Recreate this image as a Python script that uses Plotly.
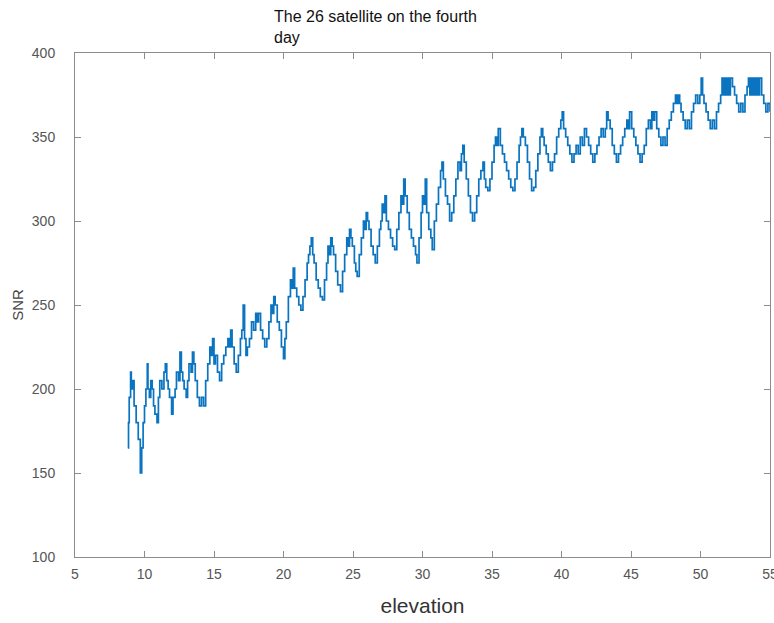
import plotly.graph_objects as go

# Elevation / SNR samples
elev_a = [8.80, 8.85, 8.90, 9.00, 9.05, 9.15, 9.25, 9.40, 9.55, 9.70, 9.80, 9.90, 10.00, 10.10, 10.20, 10.25, 10.35, 10.45, 10.55, 10.65,
          10.75, 10.90, 11.00, 11.10, 11.25, 11.40, 11.50, 11.60, 11.70, 11.80, 11.95, 12.05, 12.20, 12.30, 12.45, 12.55, 12.65, 12.75, 12.85, 13.00]
snr_a = [165, 180, 195, 210, 200, 205, 190, 180, 170, 150, 165, 180, 190, 200, 215, 200, 195, 205, 200, 190,
         185, 180, 195, 205, 200, 210, 215, 205, 200, 195, 185, 195, 200, 210, 205, 222, 210, 205, 200, 195]

elev_b = [13.10, 13.20, 13.35, 13.45, 13.55, 13.65, 13.80, 13.95, 14.10, 14.25, 14.40, 14.55, 14.70, 14.80, 14.90, 15.00, 15.10, 15.25, 15.40, 15.55,
          15.70, 15.85, 16.00, 16.10, 16.20, 16.30, 16.45, 16.60, 16.75, 16.90, 17.00, 17.10, 17.20, 17.30]
snr_b = [205, 215, 210, 222, 215, 205, 195, 190, 195, 190, 205, 215, 225, 220, 230, 215, 220, 210, 205, 215,
         220, 225, 230, 225, 235, 225, 215, 210, 220, 230, 235, 250, 230, 220]

elev_c = [17.40, 17.55, 17.70, 17.85, 18.00, 18.10, 18.20, 18.35, 18.50, 18.65, 18.80, 18.95, 19.10, 19.20, 19.30, 19.40, 19.55, 19.70, 19.85, 20.00,
          20.10, 20.20, 20.35, 20.50, 20.60, 20.70, 20.80, 20.95, 21.10, 21.25, 21.40, 21.55, 21.70, 21.80, 21.90, 22.00]
snr_c = [225, 230, 240, 235, 245, 240, 245, 235, 230, 225, 230, 240, 250, 245, 255, 250, 240, 235, 225, 218,
         230, 240, 255, 265, 260, 272, 260, 255, 250, 247, 255, 265, 275, 280, 285, 290]

elev_d = [22.10, 22.20, 22.35, 22.50, 22.65, 22.80, 22.95, 23.10, 23.20, 23.30, 23.40, 23.50, 23.60, 23.75, 23.90, 24.10, 24.25, 24.40, 24.55, 24.65,
          24.75, 24.85, 24.95, 25.10, 25.20, 25.30, 25.45, 25.60, 25.75, 25.85, 25.95, 26.05, 26.15, 26.30, 26.45]
snr_d = [280, 275, 265, 260, 255, 253, 265, 275, 285, 280, 290, 285, 280, 270, 262, 258, 270, 280, 290, 285,
         295, 290, 285, 275, 270, 267, 280, 290, 300, 295, 305, 300, 295, 285, 280]

elev_e = [26.60, 26.75, 26.90, 27.00, 27.10, 27.20, 27.30, 27.40, 27.55, 27.70, 27.85, 28.00, 28.15, 28.30, 28.45, 28.55, 28.65, 28.75, 28.90, 29.05,
          29.20, 29.35, 29.50, 29.60, 29.75, 29.90, 30.00, 30.10, 30.20, 30.30, 30.45, 30.60, 30.70, 30.85, 31.00]
snr_e = [275, 285, 295, 300, 310, 305, 315, 300, 295, 290, 285, 283, 295, 305, 315, 310, 325, 315, 305, 295,
         290, 285, 280, 275, 290, 305, 315, 310, 325, 305, 295, 290, 283, 300, 310]

elev_f = [31.15, 31.30, 31.40, 31.50, 31.65, 31.80, 31.95, 32.10, 32.25, 32.40, 32.55, 32.70, 32.80, 32.90, 33.00, 33.15, 33.30, 33.45, 33.60, 33.75,
          33.90, 34.05, 34.20, 34.35, 34.45, 34.55, 34.70, 34.85, 35.00, 35.15, 35.25, 35.35, 35.45]
snr_f = [320, 330, 335, 325, 315, 310, 300, 305, 315, 325, 335, 330, 340, 345, 335, 325, 315, 305, 300, 305,
         315, 325, 330, 335, 325, 320, 318, 325, 335, 345, 350, 345, 355]

elev_g = [35.60, 35.75, 35.90, 36.05, 36.20, 36.35, 36.50, 36.65, 36.80, 36.95, 37.05, 37.15, 37.25, 37.40, 37.55, 37.70, 37.85, 38.00, 38.15, 38.30,
          38.45, 38.55, 38.65, 38.75, 38.90, 39.05, 39.20, 39.35, 39.50, 39.65, 39.80, 39.95]
snr_g = [345, 340, 335, 330, 325, 320, 318, 325, 335, 345, 350, 355, 350, 345, 335, 325, 318, 320, 330, 340,
         350, 355, 350, 345, 340, 335, 330, 335, 340, 350, 355, 360]

elev_h = [40.05, 40.15, 40.30, 40.45, 40.60, 40.75, 40.90, 41.05, 41.20, 41.35, 41.50, 41.65, 41.80, 41.95, 42.10, 42.25, 42.40, 42.55, 42.70, 42.85,
          43.00, 43.15, 43.25, 43.35, 43.50, 43.65, 43.80, 43.95, 44.10, 44.25, 44.40, 44.55, 44.70, 44.80, 44.90]
snr_h = [365, 355, 350, 345, 340, 335, 340, 345, 340, 350, 345, 355, 350, 345, 340, 335, 340, 345, 350, 355,
         350, 355, 365, 360, 355, 345, 340, 335, 340, 345, 350, 355, 360, 355, 365]

elev_i = [45.05, 45.20, 45.35, 45.50, 45.65, 45.80, 45.95, 46.10, 46.25, 46.40, 46.50, 46.60, 46.70, 46.85, 47.00, 47.15, 47.30, 47.45, 47.60, 47.75,
          47.90, 48.05, 48.20, 48.30, 48.40, 48.50, 48.60, 48.75, 48.90, 49.05, 49.20, 49.35, 49.50, 49.65, 49.80, 49.95]
snr_i = [355, 350, 345, 340, 335, 340, 345, 355, 360, 355, 365, 360, 365, 355, 350, 345, 350, 345, 355, 360,
         365, 370, 375, 370, 375, 370, 365, 360, 355, 360, 355, 365, 370, 375, 370, 375]

elev_j = [50.05, 50.15, 50.25, 50.40, 50.55, 50.70, 50.85, 51.00, 51.15, 51.30, 51.45, 51.55, 51.65, 51.75, 51.85, 51.95, 52.05, 52.15, 52.30, 52.45,
          52.60, 52.75, 52.90, 53.05, 53.20, 53.35, 53.45, 53.55, 53.65, 53.75, 53.85, 53.95, 54.05, 54.15, 54.25, 54.40, 54.55, 54.70, 54.85, 55.00]
snr_j = [385, 375, 370, 365, 360, 355, 360, 355, 365, 370, 375, 385, 375, 385, 375, 385, 375, 385, 380, 375,
         370, 365, 370, 365, 375, 380, 385, 375, 385, 375, 385, 375, 385, 375, 385, 375, 370, 365, 370, 365]

x_ticks = [5, 10, 15, 20, 25, 30, 35, 40, 45, 50, 55]
y_ticks = [100, 150, 200, 250, 300, 350, 400]
title_text = "The 26 satellite on the fourth<br>day"

elevation = elev_a + elev_b + elev_c + elev_d + elev_e + elev_f + elev_g + elev_h + elev_i + elev_j
snr = snr_a + snr_b + snr_c + snr_d + snr_e + snr_f + snr_g + snr_h + snr_i + snr_j

FONT = "Liberation Sans, Arial, sans-serif"

fig = go.Figure()
fig.add_trace(go.Scatter(
    x=elevation, y=snr, mode="lines",
    line=dict(color="#0a74c0", width=1.7, shape="hv"),
    showlegend=False,
))

axis_common = dict(
    showline=True, linecolor="#8c8c8c", linewidth=1, mirror="ticks",
    ticks="inside", ticklen=6, tickcolor="#8c8c8c", tickwidth=1,
    showgrid=False, zeroline=False, automargin=False,
    ticklabeloverflow="allow",
    tickfont=dict(family=FONT, size=14, color="#555555"),
)

fig.update_layout(
    width=774, height=623, autosize=False,
    paper_bgcolor="white", plot_bgcolor="white",
    margin=dict(l=75, r=4, t=53, b=66, autoexpand=False),
    xaxis=dict(range=[5, 55], tickvals=x_ticks, ticklabelstandoff=4,
               title=dict(text="elevation", standoff=17,
                          font=dict(family=FONT, size=21, color="#333333")),
               **axis_common),
    yaxis=dict(range=[100, 400], tickvals=y_ticks, ticklabelstandoff=16,
               title=dict(text="SNR", standoff=4,
                          font=dict(family=FONT, size=15, color="#444444")),
               **axis_common),
    annotations=[dict(
        text=title_text, xref="paper", yref="paper", x=0.2835, y=1.0, yshift=5,
        xanchor="left", yanchor="bottom", align="left", showarrow=False,
        font=dict(family=FONT, size=16, color="#111111"),
    )],
)

fig.write_html(
    "out.html",
    config={"responsive": False, "displayModeBar": False},
    post_script="document.body.style.margin='0';document.body.style.padding='0';document.body.style.overflow='hidden';",
)
